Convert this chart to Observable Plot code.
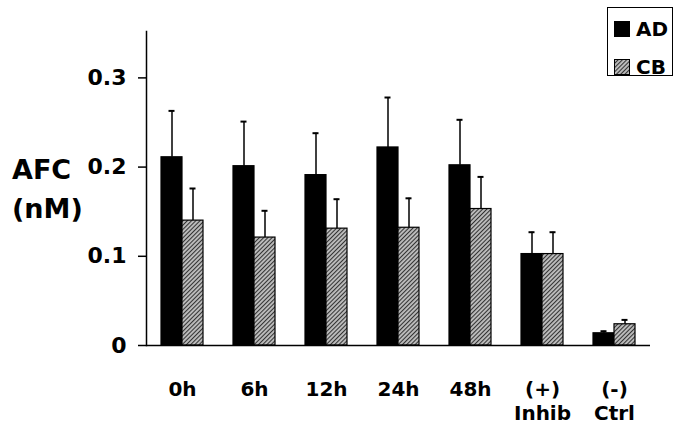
<!DOCTYPE html>
<html>
<head>
<meta charset="utf-8">
<script src="https://cdn.jsdelivr.net/npm/d3@7"></script>
<script src="https://cdn.jsdelivr.net/npm/@observablehq/plot@0.6"></script>
<style>
  body { margin: 0; background: #fff; }
  #wrap { position: relative; width: 685px; height: 428px; font-family: "DejaVu Sans", "Liberation Sans", Arial, sans-serif; font-weight: bold; color: #000; }
  #ylabel { position: absolute; left: 12px; top: 150px; font-size: 27px; line-height: 39px; }
  #legend { position: absolute; left: 607px; top: 7px; width: 64px; height: 67px; border: 1.5px solid #000; background: #fff; }
  .item { position: absolute; left: 6px; height: 22px; display: flex; align-items: center; font-size: 20px; }
  .item svg { margin-right: 6px; }
</style>
</head>
<body>
<div id="wrap">
  <div id="chart"></div>
  <div id="ylabel">AFC<br>(nM)</div>
  <div id="legend"></div>
</div>
<script>
const groups = ["0h", "6h", "12h", "24h", "48h", "(+)\nInhib", "(-)\nCtrl"];
const seriesNames = ["AD", "CB"];
const adValues = [0.211, 0.201, 0.191, 0.222, 0.202, 0.1025, 0.0137];
const adErrors = [0.052, 0.050, 0.047, 0.056, 0.051, 0.0245, 0.0023];
const cbValues = [0.140, 0.121, 0.131, 0.132, 0.153, 0.1025, 0.0238];
const cbErrors = [0.036, 0.030, 0.033, 0.033, 0.036, 0.0245, 0.0049];
const yTicks = [0, 0.1, 0.2, 0.3];

const rows = [];
groups.forEach((g, i) => {
  rows.push({group: g, series: "AD", value: adValues[i], top: adValues[i] + adErrors[i]});
  rows.push({group: g, series: "CB", value: cbValues[i], top: cbValues[i] + cbErrors[i]});
});

const fills = {AD: "#000", CB: "url(#hatch)"};
const font = '"DejaVu Sans", "Liberation Sans", Arial, sans-serif';

const chart = Plot.plot({
  width: 685,
  height: 428,
  marginLeft: 146,
  marginRight: 35,
  marginTop: 31,
  marginBottom: 83,
  style: {fontFamily: font, fontWeight: "bold", color: "#000", background: "#fff"},
  fx: {domain: groups, paddingInner: 0, paddingOuter: 0},
  x: {domain: seriesNames, paddingInner: 0, paddingOuter: 0.674, axis: null},
  y: {domain: [0, 0.352]},
  marks: [
    Plot.barY(rows, {fx: "group", x: "series", y: "value", fill: d => fills[d.series], stroke: "#000", strokeWidth: 1.2}),
    Plot.ruleX(rows, {fx: "group", x: "series", y1: "value", y2: "top", stroke: "#000", strokeWidth: 1.5}),
    Plot.tickY(rows, {fx: "group", x: "series", y: "top", stroke: "#000", strokeWidth: 2, insetLeft: 7.5, insetRight: 7.5}),
    Plot.ruleY([0], {stroke: "#000", strokeWidth: 1.5}),
    Plot.frame({anchor: "left", facetAnchor: "left", stroke: "#000", strokeWidth: 1.5}),
    Plot.axisY({ticks: yTicks, tickSize: 8, tickPadding: 12, fontSize: 22, fontWeight: "bold", label: null, strokeWidth: 1.5,
      tickFormat: d => d === 0 ? "0" : d.toFixed(1)}),
    Plot.axisFx({anchor: "bottom", tickSize: 0, tickPadding: 33, fontSize: 20, fontWeight: "bold", label: null, lineHeight: 1.2})
  ]
});

document.getElementById("chart").appendChild(chart);
const svgEl = chart.tagName.toLowerCase() === "svg" ? chart : chart.querySelector("svg");
const patternHTML = id => `<pattern id="${id}" patternUnits="userSpaceOnUse" width="3" height="3" patternTransform="rotate(45)">` +
  '<rect width="3" height="3" fill="#bdbdbd"></rect><line x1="0.5" y1="0" x2="0.5" y2="3" stroke="#333" stroke-width="1.1"></line></pattern>';
const defs = document.createElementNS("http://www.w3.org/2000/svg", "defs");
defs.innerHTML = patternHTML("hatch");
svgEl.insertBefore(defs, svgEl.firstChild);

const legend = document.getElementById("legend");
seriesNames.forEach((s, i) => {
  const item = document.createElement("div");
  item.className = "item";
  item.style.top = (i === 0 ? 10 : 48) + "px";
  item.innerHTML = `<svg width="16" height="16"><defs>${patternHTML("hatchL" + i)}</defs><rect x="0.5" y="0.5" width="15" height="15" fill="${s === "AD" ? "#000" : `url(#hatchL${i})`}" stroke="#000" stroke-width="1"></rect></svg><span>${s}</span>`;
  legend.appendChild(item);
});
</script>
</body>
</html>
